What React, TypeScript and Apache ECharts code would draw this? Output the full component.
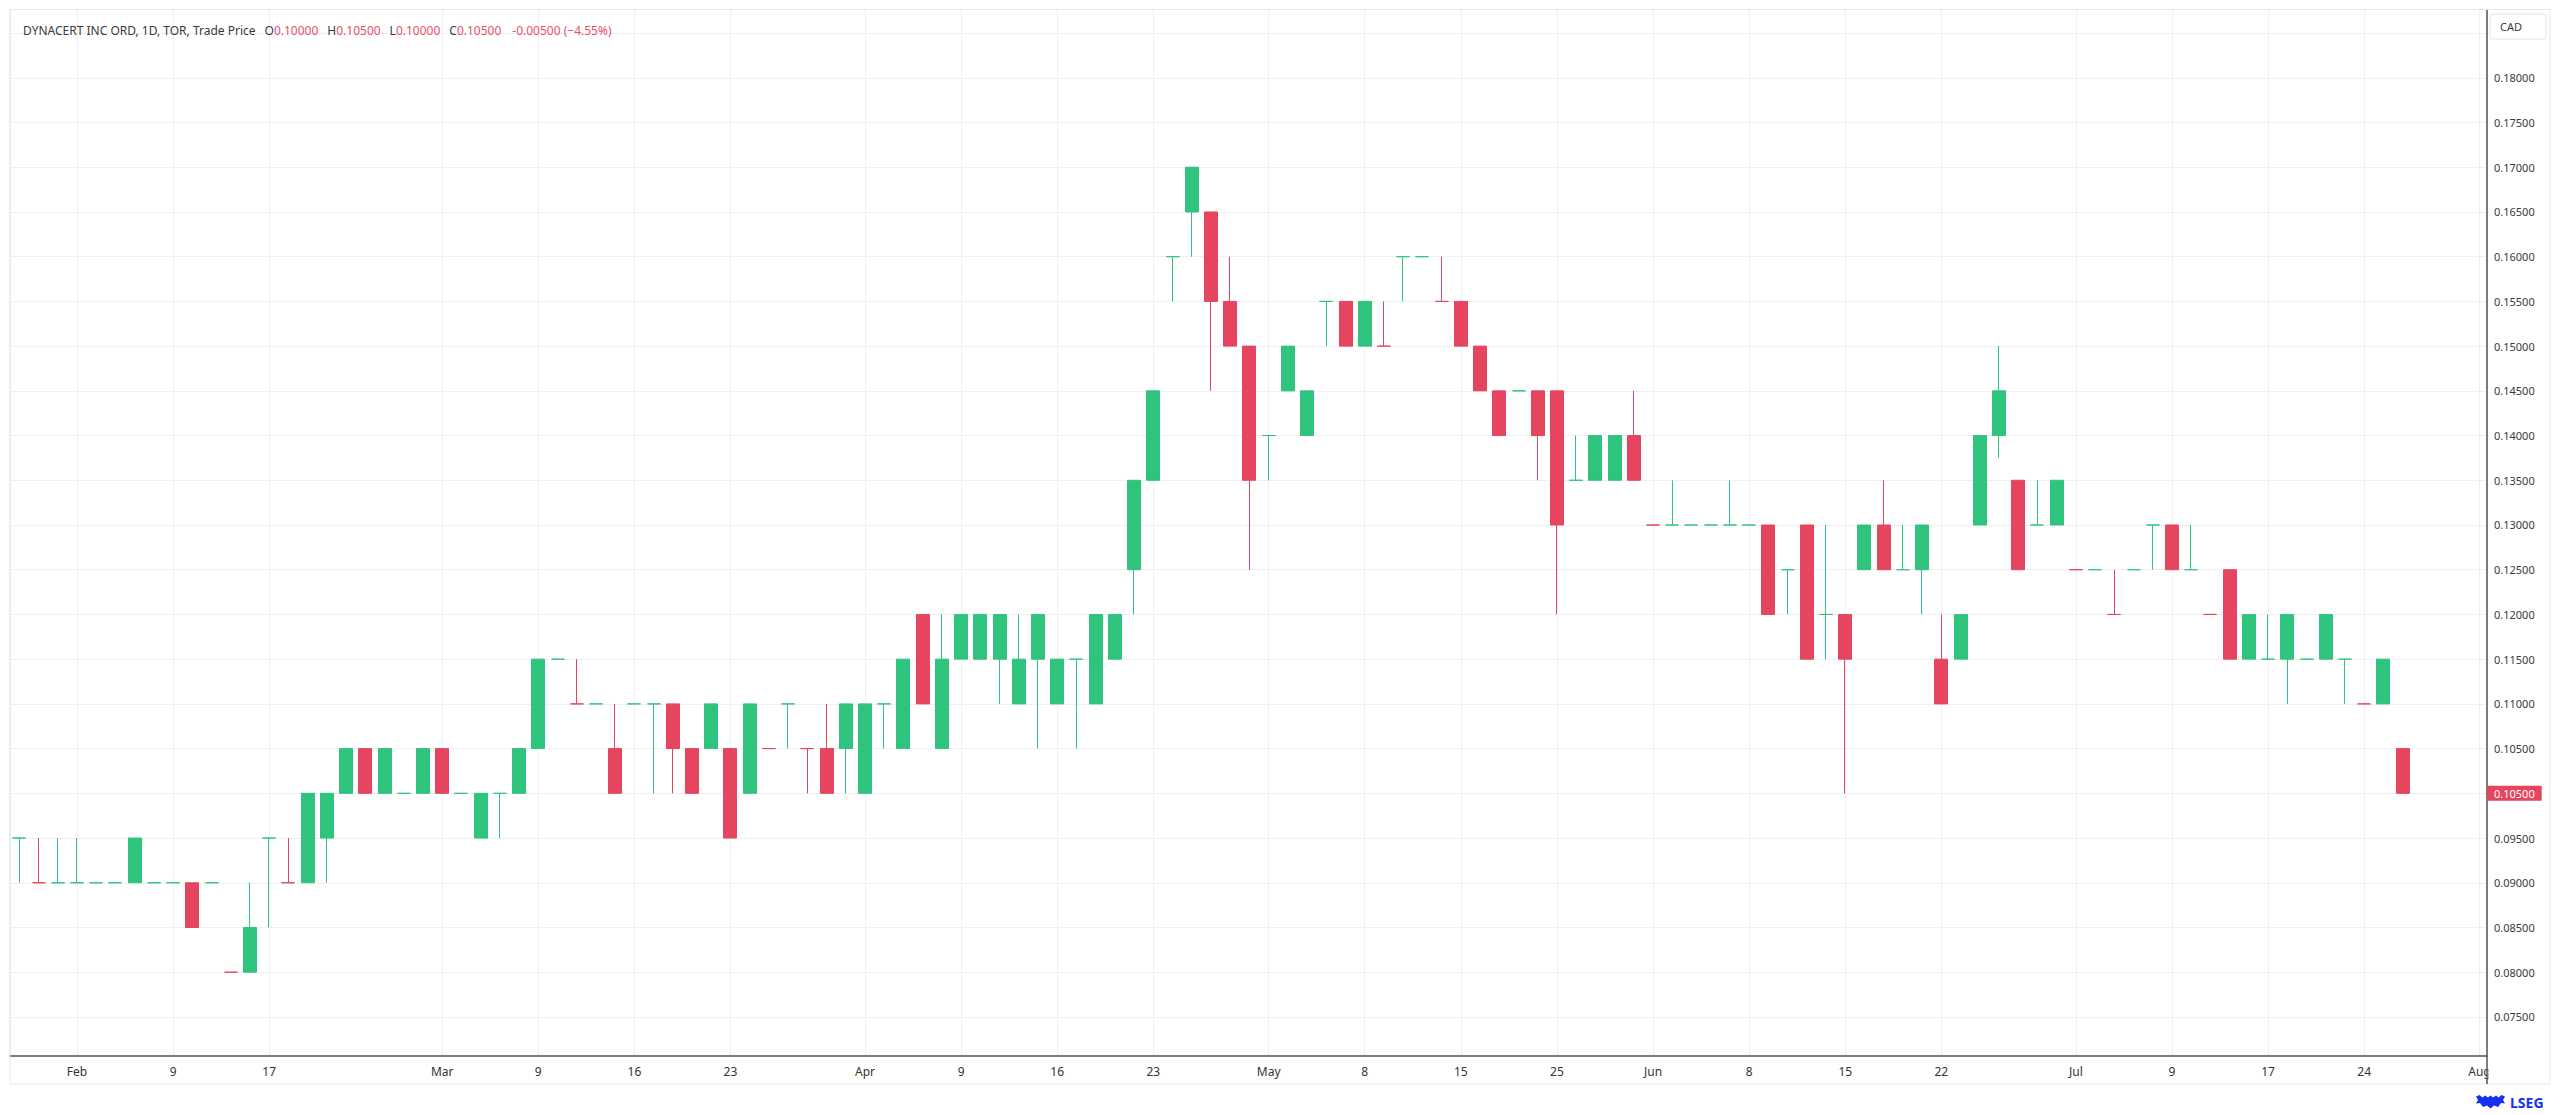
import React, { useEffect, useRef } from 'react';
import * as echarts from 'echarts';

// ---- data (trading-day index 0..124) ----
const opens = [
  0.095, 0.09, 0.09, 0.09, 0.09, 0.09, 0.09, 0.09, 0.09, 0.09,
  0.09, 0.08, 0.08, 0.095, 0.09, 0.09, 0.095, 0.10, 0.105, 0.10,
  0.10, 0.10, 0.105, 0.10, 0.095, 0.10, 0.10, 0.105, 0.115, 0.11,
  0.11, 0.105, 0.11, 0.11, 0.11, 0.105, 0.105, 0.105, 0.10, 0.105,
  0.11, 0.105, 0.105, 0.105, 0.10, 0.11, 0.105, 0.12, 0.105, 0.115,
  0.115, 0.115, 0.11, 0.115, 0.11, 0.115, 0.11, 0.115, 0.125, 0.135,
  0.16, 0.165, 0.165, 0.155, 0.15, 0.14, 0.145, 0.14, 0.155, 0.155,
  0.15, 0.15, 0.16, 0.16, 0.155, 0.155, 0.15, 0.145, 0.145, 0.145,
  0.145, 0.135, 0.135, 0.135, 0.14, 0.13, 0.13, 0.13, 0.13, 0.13,
  0.13, 0.13, 0.125, 0.13, 0.12, 0.12, 0.125, 0.13, 0.125, 0.125,
  0.115, 0.115, 0.13, 0.14, 0.135, 0.13, 0.13, 0.125, 0.125, 0.12,
  0.125, 0.13, 0.13, 0.125, 0.12, 0.125, 0.115, 0.115, 0.115, 0.115,
  0.115, 0.115, 0.11, 0.115, 0.10,
];
const highs = [
  0.095, 0.095, 0.095, 0.095, 0.09, 0.09, 0.095, 0.09, 0.09, 0.09,
  0.09, 0.08, 0.09, 0.095, 0.095, 0.10, 0.10, 0.105, 0.105, 0.105,
  0.10, 0.105, 0.105, 0.10, 0.10, 0.10, 0.105, 0.115, 0.115, 0.115,
  0.11, 0.11, 0.11, 0.11, 0.11, 0.105, 0.11, 0.105, 0.11, 0.105,
  0.11, 0.105, 0.11, 0.11, 0.11, 0.11, 0.115, 0.12, 0.12, 0.12,
  0.12, 0.12, 0.12, 0.12, 0.115, 0.115, 0.12, 0.12, 0.135, 0.145,
  0.16, 0.17, 0.165, 0.16, 0.15, 0.14, 0.15, 0.145, 0.155, 0.155,
  0.155, 0.155, 0.16, 0.16, 0.16, 0.155, 0.15, 0.145, 0.145, 0.145,
  0.145, 0.14, 0.14, 0.14, 0.145, 0.13, 0.135, 0.13, 0.13, 0.135,
  0.13, 0.13, 0.125, 0.13, 0.13, 0.12, 0.13, 0.135, 0.13, 0.13,
  0.12, 0.12, 0.14, 0.15, 0.135, 0.135, 0.135, 0.125, 0.125, 0.125,
  0.125, 0.13, 0.13, 0.13, 0.12, 0.125, 0.12, 0.12, 0.12, 0.115,
  0.12, 0.115, 0.11, 0.115, 0.105,
];
const lows = [
  0.09, 0.09, 0.09, 0.09, 0.09, 0.09, 0.09, 0.09, 0.09, 0.085,
  0.09, 0.08, 0.08, 0.085, 0.09, 0.09, 0.09, 0.10, 0.10, 0.10,
  0.10, 0.10, 0.10, 0.10, 0.095, 0.095, 0.10, 0.105, 0.115, 0.11,
  0.11, 0.10, 0.11, 0.10, 0.10, 0.10, 0.105, 0.095, 0.10, 0.105,
  0.105, 0.10, 0.10, 0.10, 0.10, 0.105, 0.105, 0.11, 0.105, 0.115,
  0.115, 0.11, 0.11, 0.105, 0.11, 0.105, 0.11, 0.115, 0.12, 0.135,
  0.155, 0.16, 0.145, 0.15, 0.125, 0.135, 0.145, 0.14, 0.15, 0.15,
  0.15, 0.15, 0.155, 0.16, 0.155, 0.15, 0.145, 0.14, 0.145, 0.135,
  0.12, 0.135, 0.135, 0.135, 0.135, 0.13, 0.13, 0.13, 0.13, 0.13,
  0.13, 0.12, 0.12, 0.115, 0.115, 0.10, 0.125, 0.125, 0.125, 0.12,
  0.11, 0.115, 0.13, 0.1375, 0.125, 0.13, 0.13, 0.125, 0.125, 0.12,
  0.125, 0.125, 0.125, 0.125, 0.12, 0.115, 0.115, 0.115, 0.11, 0.115,
  0.115, 0.11, 0.11, 0.11, 0.10,
];
const closes = [
  0.095, 0.09, 0.09, 0.09, 0.09, 0.09, 0.095, 0.09, 0.09, 0.085,
  0.09, 0.08, 0.085, 0.095, 0.09, 0.10, 0.10, 0.105, 0.10, 0.105,
  0.10, 0.105, 0.10, 0.10, 0.10, 0.10, 0.105, 0.115, 0.115, 0.11,
  0.11, 0.10, 0.11, 0.11, 0.105, 0.10, 0.11, 0.095, 0.11, 0.105,
  0.11, 0.105, 0.10, 0.11, 0.11, 0.11, 0.115, 0.11, 0.115, 0.12,
  0.12, 0.12, 0.115, 0.12, 0.115, 0.115, 0.12, 0.12, 0.135, 0.145,
  0.16, 0.17, 0.155, 0.15, 0.135, 0.14, 0.15, 0.145, 0.155, 0.15,
  0.155, 0.15, 0.16, 0.16, 0.155, 0.15, 0.145, 0.14, 0.145, 0.14,
  0.13, 0.135, 0.14, 0.14, 0.135, 0.13, 0.13, 0.13, 0.13, 0.13,
  0.13, 0.12, 0.125, 0.115, 0.12, 0.115, 0.13, 0.125, 0.125, 0.13,
  0.11, 0.12, 0.14, 0.145, 0.125, 0.13, 0.135, 0.125, 0.125, 0.12,
  0.125, 0.13, 0.125, 0.125, 0.12, 0.115, 0.12, 0.115, 0.12, 0.115,
  0.12, 0.115, 0.11, 0.11, 0.105,
];
// 1 = close at/above previous close (green), -1 = below (red)
const moves = [
  1, -1, 1, 1, 1, 1, 1, 1, 1, -1,
  1, -1, 1, 1, -1, 1, 1, 1, -1, 1,
  1, 1, -1, 1, 1, 1, 1, 1, 1, -1,
  1, -1, 1, 1, -1, -1, 1, -1, 1, -1,
  1, -1, -1, 1, 1, 1, 1, -1, 1, 1,
  1, 1, 1, 1, 1, 1, 1, 1, 1, 1,
  1, 1, -1, -1, -1, 1, 1, 1, 1, -1,
  1, -1, 1, 1, -1, -1, -1, -1, 1, -1,
  -1, 1, 1, 1, -1, -1, 1, 1, 1, 1,
  1, -1, 1, -1, 1, -1, 1, -1, 1, 1,
  -1, 1, 1, 1, -1, 1, 1, -1, 1, -1,
  1, 1, -1, 1, -1, -1, 1, 1, 1, 1,
  1, 1, -1, 1, -1,
];

// x-axis tick labels (trading-day index -> text)
const xTickIndex = [3, 8, 13, 22, 27, 32, 37, 44, 49, 54, 59, 65, 70, 75, 80, 85, 90, 95, 100, 107, 112, 117, 122, 128];
const xTickText = ['Feb', '9', '17', 'Mar', '9', '16', '23', 'Apr', '9', '16', '23', 'May', '8', '15', '25', 'Jun', '8', '15', '22', 'Jul', '9', '17', '24', 'Aug'];

// y-axis grid values and labels
const yGridValues = [0.075, 0.08, 0.085, 0.09, 0.095, 0.10, 0.105, 0.11, 0.115, 0.12, 0.125, 0.13, 0.135, 0.14, 0.145, 0.15, 0.155, 0.16, 0.165, 0.17, 0.175, 0.18, 0.185];
const yLabelValues = [0.075, 0.08, 0.085, 0.09, 0.095, 0.10, 0.105, 0.11, 0.115, 0.12, 0.125, 0.13, 0.135, 0.14, 0.145, 0.15, 0.155, 0.16, 0.165, 0.17, 0.175, 0.18];

const GREEN = '#2ec47e';
const RED = '#e5455f';
const TXT_RED = '#ee4d68';
const FONT = 'Noto Sans';

let logoRegistered = false;
function registerLogo() {
  if (logoRegistered) return;
  logoRegistered = true;
  const d =
    'M0 1.5 L3.5 0 L6.5 2.5 L9 0.5 L12 2.5 L14.5 0.5 L17 2.5 L20 0.5 L22.5 2.5 L25.5 0 L29 1.5 L27 5 L29 8.5 L25 8 L22 12 L18 10.5 L14.5 13.5 L11 10.5 L7 12 L4 8 L0 8.5 L2 5 Z ' +
    'M8 4 L10.5 4 L10.5 6.5 L8 6.5 Z M18.5 4 L21 4 L21 6.5 L18.5 6.5 Z M13 6 L16 6 L14.5 9 Z';
  echarts.graphic.registerShape('lsegLogo', echarts.graphic.extendPath(d, {}));
}

export default function App() {
  const ref = useRef<HTMLDivElement>(null);

  useEffect(() => {
    document.body.style.margin = '0';
    document.body.style.background = '#ffffff';
    if (!ref.current) return;
    registerLogo();
    const chart = echarts.init(ref.current, undefined, { renderer: 'svg' });

    const data = opens.map((o, i) => {
      const col = moves[i] > 0 ? GREEN : RED;
      return {
        value: [i, o, closes[i], lows[i], highs[i]],
        itemStyle: { color: col, color0: col, borderColor: col, borderColor0: col, borderColorDoji: col },
      };
    });

    const n = opens.length;
    const lastO = opens[n - 1];
    const lastH = highs[n - 1];
    const lastL = lows[n - 1];
    const lastC = closes[n - 1];
    const prevC = closes[n - 2];
    const chg = lastC - prevC;
    const pct = (chg / prevC) * 100;
    const chgText = `${chg < 0 ? '-' : '+'}${Math.abs(chg).toFixed(5)} (${pct < 0 ? '\u2212' : '+'}${Math.abs(pct).toFixed(2)}%)`;

    const titleText =
      `{n|DYNACERT INC ORD, 1D, TOR, Trade Price}` +
      `{k|O}{v|${lastO.toFixed(5)}}` +
      `{k|H}{v|${lastH.toFixed(5)}}` +
      `{k|L}{v|${lastL.toFixed(5)}}` +
      `{k|C}{v|${lastC.toFixed(5)}}` +
      `{c|${chgText}}`;

    const base = { fontSize: 12, fontFamily: FONT, fontWeight: 'normal', lineHeight: 16 };

    const option: any = {
      animation: false,
      backgroundColor: '#ffffff',
      textStyle: { fontFamily: FONT },
      title: {
        left: 18,
        top: 17,
        text: titleText,
        textStyle: {
          fontWeight: 'normal',
          fontSize: 12,
          fontFamily: FONT,
          rich: {
            n: { ...base, color: '#3a3a3a' },
            k: { ...base, color: '#3a3a3a', padding: [0, 0, 0, 9] },
            v: { ...base, color: TXT_RED },
            c: { ...base, color: TXT_RED, padding: [0, 0, 0, 11] },
          },
        },
      },
      grid: {
        left: 10,
        top: 9.5,
        width: 2477,
        height: 1046.5,
        show: true,
        borderColor: '#e6e6e6',
        borderWidth: 1,
        backgroundColor: 'transparent',
      },
      xAxis: {
        type: 'value',
        min: -0.486,
        max: 128.39,
        axisLine: { show: true, onZero: false, lineStyle: { color: '#555555', width: 1.5 } },
        axisTick: { show: false, customValues: xTickIndex },
        axisLabel: {
          customValues: xTickIndex,
          formatter: (v: number) => {
            const k = xTickIndex.indexOf(Math.round(v));
            return k >= 0 ? xTickText[k] : '';
          },
          color: '#333333',
          fontSize: 12,
          fontFamily: FONT,
          margin: 9,
        },
        splitLine: { show: true, lineStyle: { color: '#f0f0f0', width: 1 } },
      },
      yAxis: {
        type: 'value',
        position: 'right',
        min: 0.07063,
        max: 0.187636,
        axisLine: { show: true, onZero: false, lineStyle: { color: '#555555', width: 1.5 } },
        axisTick: { show: false, customValues: yGridValues },
        axisLabel: {
          customValues: yLabelValues,
          formatter: (v: number) => v.toFixed(5),
          color: '#3a3a3a',
          fontSize: 11,
          fontFamily: FONT,
          margin: 7,
        },
        splitLine: { show: true, lineStyle: { color: '#efefef', width: 1 } },
      },
      series: [
        {
          type: 'candlestick',
          data,
          encode: { x: 0, y: [1, 2, 3, 4] },
          barWidth: 13.5,
          itemStyle: { borderWidth: 1 },
          markLine: {
            symbol: ['none', 'none'],
            silent: true,
            data: [{ yAxis: lastC }],
            lineStyle: { color: 'rgba(0,0,0,0)', width: 0 },
            label: {
              show: true,
              position: 'end',
              distance: 0,
              formatter: () => lastC.toFixed(5),
              backgroundColor: RED,
              color: '#ffffff',
              fontSize: 11,
              fontFamily: FONT,
              padding: [2, 7, 2, 7],
            },
          },
        },
      ],
      graphic: [
        {
          type: 'rect',
          z: 100,
          shape: { x: 2488.5, y: 1057.5, width: 60, height: 25.5 },
          style: { fill: '#ffffff' },
        },
        {
          type: 'rect',
          z: 101,
          shape: { x: 10, y: 9.5, width: 2540, height: 1074.5 },
          style: { fill: 'none', stroke: '#e6e6e6', lineWidth: 1 },
        },
        {
          type: 'line',
          z: 101,
          shape: { x1: 2487, y1: 1056, x2: 2487, y2: 1084 },
          style: { stroke: '#555555', lineWidth: 1.5 },
        },
        {
          type: 'rect',
          z: 101,
          shape: { x: 2490, y: 14, width: 56, height: 25, r: 3 },
          style: { fill: '#ffffff', stroke: '#e3e3e3', lineWidth: 1 },
        },
        {
          type: 'text',
          z: 102,
          x: 2500,
          y: 26.5,
          style: { text: 'CAD', fill: '#3a3a3a', fontSize: 11, fontFamily: FONT, verticalAlign: 'middle' },
        },
        {
          type: 'lsegLogo',
          z: 102,
          x: 2476,
          y: 1095,
          scaleX: 1,
          scaleY: 1,
          style: { fill: '#1630f0' },
        },
        {
          type: 'text',
          z: 102,
          x: 2510,
          y: 1102,
          style: {
            text: 'LSEG',
            fill: '#1630f0',
            fontSize: 14,
            fontWeight: 'bold',
            fontFamily: FONT,
            verticalAlign: 'middle',
          },
        },
      ],
    };

    chart.setOption(option);
    return () => chart.dispose();
  }, []);

  return <div ref={ref} style={{ width: 2560, height: 1115 }} />;
}
